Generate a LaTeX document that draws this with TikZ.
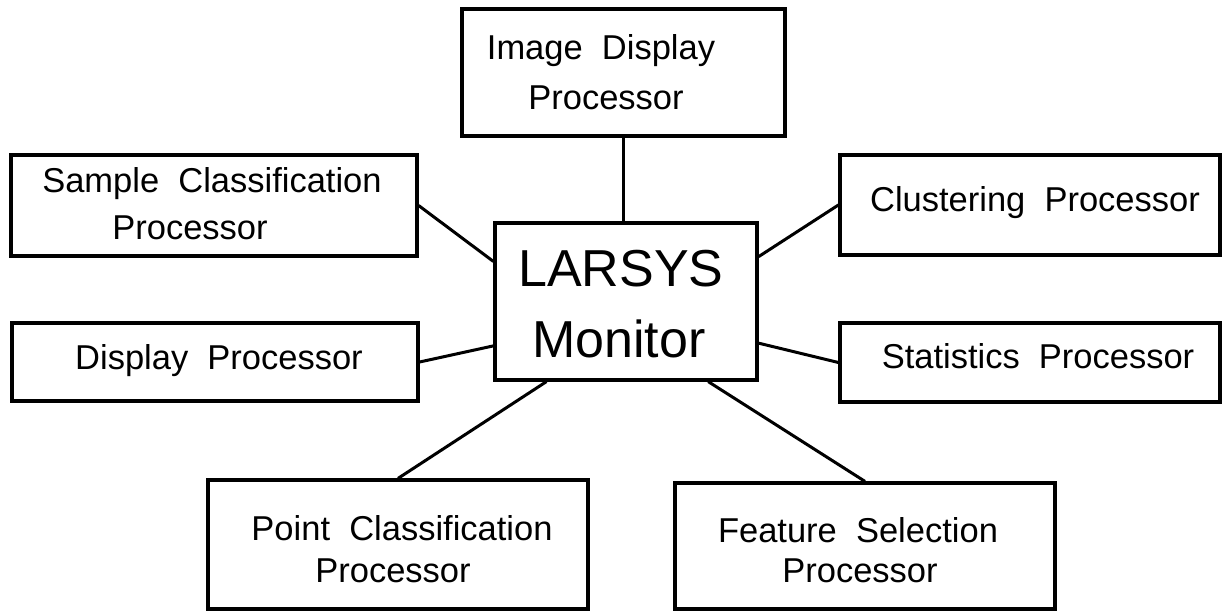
\documentclass[tikz,border=0pt]{standalone}
\usepackage{fontspec}
\setmainfont{Liberation Sans}[WordSpace=2]
\usetikzlibrary{calc}
\begin{document}
\begin{tikzpicture}[x=1pt,y=-1pt,
  box/.style={draw=black, line width=3.2pt, rectangle, inner sep=0pt},
  lbl/.style={anchor=base, inner sep=0pt, font=\fontsize{34.5}{40}\selectfont},
  biglbl/.style={anchor=base, inner sep=0pt, font=\fontsize{52}{60}\selectfont},
  link/.style={draw=black, line width=3pt}]
\useasboundingbox (0,0) rectangle (1223,612);
% boxes
\node[box, minimum width=323pt, minimum height=127pt] (img) at (623.5,72.5) {};
\node[box, minimum width=406pt, minimum height=101pt] (samp) at (214,205.5) {};
\node[box, minimum width=380pt, minimum height=100pt] (clus) at (1030,205) {};
\node[box, minimum width=262pt, minimum height=157pt] (mon) at (626,301.5) {};
\node[box, minimum width=406pt, minimum height=78pt] (disp) at (215,362) {};
\node[box, minimum width=380pt, minimum height=79pt] (stat) at (1030,362.5) {};
\node[box, minimum width=380pt, minimum height=129pt] (point) at (398,544.5) {};
\node[box, minimum width=380pt, minimum height=126pt] (feat) at (865,546) {};
% labels
\node[lbl] (imgA) at (601,60) {Image Display};
\node[lbl] (imgB) at (606,110) {Processor};
\node[lbl] (sampA) at (212,193) {Sample Classification};
\node[lbl] (sampB) at (190,240) {Processor};
\node[lbl] (clusA) at (1035,212) {Clustering Processor};
\node[biglbl] (monA) at (621,287) {LARSYS};
\node[biglbl] (monB) at (619,357) {Monitor};
\node[lbl] (dispA) at (219,369) {Display Processor};
\node[lbl] (statA) at (1038,368) {Statistics Processor};
\node[lbl] (pointA) at (402,540) {Point Classification};
\node[lbl] (pointB) at (393,582) {Processor};
\node[lbl] (featA) at (858,542) {Feature Selection};
\node[lbl] (featB) at (860,582) {Processor};
% connectors
\draw[link] (img.south) -- (img.south |- mon.north);
\draw[link] (samp.east) -- ($(mon.north west)!0.25!(mon.south west)$);
\draw[link] (disp.east) -- ($(mon.north west)!0.777!(mon.south west)$);
\draw[link] (clus.west) -- ($(mon.north east)!0.22!(mon.south east)$);
\draw[link] (stat.west) -- ($(mon.north east)!0.76!(mon.south east)$);
\draw[link] (point.north) -- ($(mon.south west)!0.2!(mon.south east)$);
\draw[link] (feat.north) -- ($(mon.south west)!0.81!(mon.south east)$);
\end{tikzpicture}
\end{document}
